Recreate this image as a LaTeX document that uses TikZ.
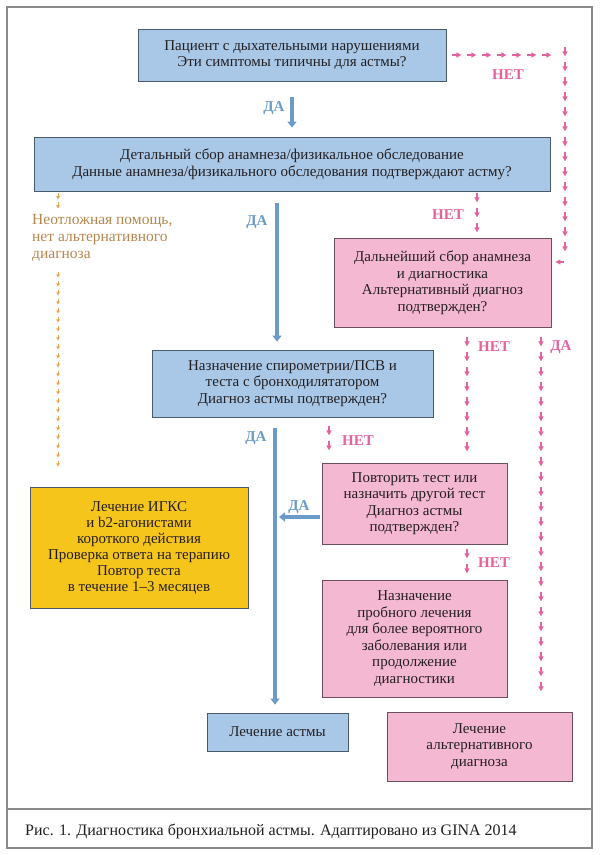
\documentclass[tikz,border=0pt]{standalone}
\usepackage{fontspec}
\setmainfont{Liberation Serif}
\usetikzlibrary{arrows.meta,decorations.markings,calc}
\definecolor{bfill}{HTML}{A9C8E8}
\definecolor{bdraw}{HTML}{4A5A6A}
\definecolor{pfill}{HTML}{F5B8D3}
\definecolor{pdraw}{HTML}{6A5060}
\definecolor{yfill}{HTML}{F6C51C}
\definecolor{barrow}{HTML}{6B9BC9}
\definecolor{pinkline}{HTML}{E4639E}
\definecolor{oline}{HTML}{EFA04A}
\definecolor{otext}{HTML}{B8874E}
\definecolor{framec}{HTML}{8A8A8A}
\definecolor{txt}{HTML}{231F20}
\newcommand{\pmk}{\fill[pinkline] (-5pt,-2.6pt)--(0pt,0pt)--(-5pt,2.6pt)--cycle; \draw[pinkline,line width=1.2pt] (-9pt,0pt)--(-4.5pt,0pt);}
\newcommand{\omk}{\fill[oline] (-3.2pt,-1.8pt)--(0pt,0pt)--(-3.2pt,1.8pt)--cycle; \draw[oline,line width=1pt] (-6pt,0pt)--(-3pt,0pt);}
\tikzset{
  box/.style={draw=#1, line width=0.8pt, align=center, inner sep=0pt, text=txt,
    font=\fontsize{15}{17}\selectfont},
  bluebox/.style={box=bdraw, fill=bfill},
  pinkbox/.style={box=pdraw, fill=pfill},
  yellowbox/.style={box=bdraw, fill=yfill},
  bluearr/.style={draw=barrow, line width=3.5pt, -{Triangle[width=9pt,length=6pt]}},
  pinkdash/.style={decoration={markings, mark=between positions 9pt and 1 step 15pt with {\pmk}}, postaction={decorate}},
  pinkend/.style={decoration={markings, mark=at position 1 with {\pmk}}, postaction={decorate}},
  orangedash/.style={decoration={markings, mark=between positions 6pt and 1 step 9pt with {\omk}}, postaction={decorate}},
  lblb/.style={text=barrow, font=\fontsize{15}{15}\selectfont\bfseries},
  lblp/.style={text=pinkline, font=\fontsize{15}{15}\selectfont\bfseries},
}
\begin{document}
\begin{tikzpicture}[x=1pt,y=-1pt]
\useasboundingbox (0,0) rectangle (600,855);
\fill[white] (0,0) rectangle (600,855);
\draw[framec, line width=1.3pt] (7,7) rectangle (592,848);
\draw[framec, line width=1.3pt] (7,809) -- (592,809);
\node[anchor=west, inner sep=0pt, text=txt, font=\fontsize{16}{18}\selectfont] (cap) at (25,831) {Рис. 1. Диагностика бронхиальной астмы. Адаптировано из GINA 2014};

% boxes
\node[bluebox, minimum width=308, minimum height=52, font=\fontsize{15}{16}\selectfont] (b1) at (292,55) {Пациент с дыхательными нарушениями\\Эти симптомы типичны для астмы?};
\node[bluebox, minimum width=516, minimum height=54, font=\fontsize{15}{16.5}\selectfont] (b2) at (292,164) {Детальный сбор анамнеза/физикальное обследование\\Данные анамнеза/физикального обследования подтверждают астму?};
\node[pinkbox, minimum width=217, minimum height=89, font=\fontsize{15}{16.5}\selectfont] (b3) at (442.5,282.5) {Дальнейший сбор анамнеза\\и диагностика\\Альтернативный диагноз\\подтвержден?};
\node[bluebox, minimum width=281, minimum height=67, font=\fontsize{15}{16.5}\selectfont] (b4) at (292.5,383.5) {Назначение спирометрии/ПСВ и\\теста с бронходилятатором\\Диагноз астмы подтвержден?};
\node[pinkbox, minimum width=185, minimum height=81, font=\fontsize{15}{16.5}\selectfont] (b5) at (414.5,503.5) {Повторить тест или\\назначить другой тест\\Диагноз астмы\\подтвержден?};
\node[pinkbox, minimum width=185, minimum height=117, font=\fontsize{15}{16.5}\selectfont] (b6) at (414.5,638.5) {Назначение\\пробного лечения\\для более вероятного\\заболевания или\\продолжение\\диагностики};
\node[yellowbox, minimum width=218, minimum height=121, font=\fontsize{15}{16}\selectfont] (by) at (139,547.5) {Лечение ИГКС\\и b2-агонистами\\короткого действия\\Проверка ответа на терапию\\Повтор теста\\в течение 1--3 месяцев};
\node[bluebox, minimum width=141, minimum height=38] (bt) at (277.5,732) {Лечение астмы};
\node[pinkbox, minimum width=185, minimum height=69, font=\fontsize{15}{16.5}\selectfont] (b7) at (479.5,746.5) {Лечение\\альтернативного\\диагноза};
\node[anchor=north west, align=left, inner sep=0pt, text=otext, font=\fontsize{15.5}{17}\selectfont] (otx) at (32,214) {Неотложная помощь,\\нет альтернативного\\диагноза};

% column coordinates
\coordinate (colA) at (277,0);
\coordinate (colB) at (275,0);
\coordinate (colC) at (477,0);
\coordinate (colD) at (467,0);
\coordinate (colE) at (541,0);
\coordinate (colF) at (329,0);
\coordinate (colG) at (58,0);
\coordinate (c1) at (565,55);
\coordinate (c2) at (565,262);

% blue arrows
\draw[bluearr, shorten <=16pt, shorten >=9pt] (b1) -- (b2);
\draw[bluearr, shorten <=12pt, shorten >=8pt] (b2.south -| colA) -- (b4.north -| colA);
\draw[bluearr, shorten <=11pt, shorten >=8pt] (b4.south -| colB) -- (bt.north -| colB);
\draw[bluearr, shorten <=2pt, shorten >=4pt] ($(b5.west)+(0,13.5)$) -- ($(b5.west -| colB)+(0,13.5)$);

% pink dashed connectors
\path[pinkdash] ($(b1.east)+(6,0)$) -- (c1) -- (c2);
\path[pinkend] (c2) -- ($(b3.east)+(4,-20.5)$);
\path[pinkdash] ($(b2.south -| colC)+(0,2)$) -- ($(b3.north -| colC)+(0,-5)$);
\path[pinkdash] ($(b3.south -| colD)+(0,10)$) -- ($(b5.north -| colD)+(0,-10)$);
\path[pinkdash] ($(b3.south -| colE)+(0,10)$) -- ($(b7.north -| colE)+(0,-13)$);
\path[pinkdash] ($(b4.south -| colF)+(0,9)$) -- ($(b5.north -| colF)+(0,-10)$);
\path[pinkdash] ($(b5.south -| colD)+(0,5)$) -- ($(b6.north -| colD)+(0,-5)$);

% orange dashed connector
\path[orangedash] ($(b2.south -| colG)+(0,2)$) -- ($(otx.north -| colG)+(0,-4)$);
\path[orangedash] ($(otx.south -| colG)+(0,10)$) -- ($(by.north -| colG)+(0,-16)$);

% labels
\node[lblb] (l1) at (274,108) {ДА};
\node[lblp] (l2) at (508,75) {НЕТ};
\node[lblp] (l3) at (448,215) {НЕТ};
\node[lblb] (l4) at (257,222) {ДА};
\node[lblp] (l5) at (494,347) {НЕТ};
\node[lblp] (l6) at (561,347) {ДА};
\node[lblb] (l7) at (256,438) {ДА};
\node[lblp] (l8) at (358,441) {НЕТ};
\node[lblb] (l9) at (299,507) {ДА};
\node[lblp] (l10) at (494,563) {НЕТ};
\end{tikzpicture}
\end{document}
